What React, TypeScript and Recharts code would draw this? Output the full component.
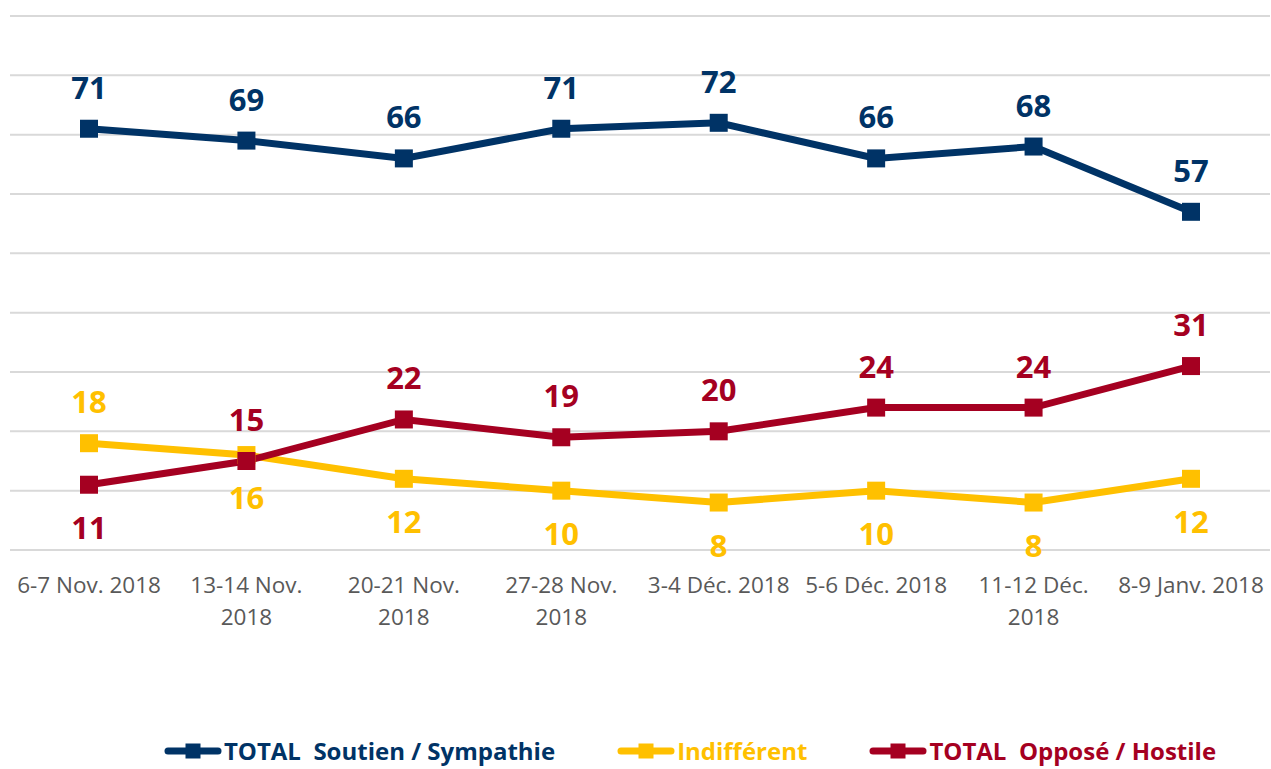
import React from 'react';
import { LineChart, Line, XAxis, YAxis, CartesianGrid, Legend, LabelList } from 'recharts';

const categories = [
  '6-7 Nov. 2018',
  '13-14 Nov.\n2018',
  '20-21 Nov.\n2018',
  '27-28 Nov.\n2018',
  '3-4 Déc. 2018',
  '5-6 Déc. 2018',
  '11-12 Déc.\n2018',
  '8-9 Janv. 2018',
];
const soutien = [71, 69, 66, 71, 72, 66, 68, 57];
const indifferent = [18, 16, 12, 10, 8, 10, 8, 12];
const oppose = [11, 15, 22, 19, 20, 24, 24, 31];
const yTicks = [0, 10, 20, 30, 40, 50, 60, 70, 80, 90];

const NAVY = '#003366';
const YELLOW = '#FFC000';
const RED = '#A50021';
const FONT = '"Open Sans", sans-serif';

const data = categories.map((c, i) => ({
  name: c,
  soutien: soutien[i],
  indifferent: indifferent[i],
  oppose: oppose[i],
}));

const SERIES = [
  { key: 'soutien', label: 'TOTAL  Soutien / Sympathie', color: NAVY, below: [] as number[] },
  { key: 'indifferent', label: 'Indifférent', color: YELLOW, below: [1, 2, 3, 4, 5, 6, 7] },
  { key: 'oppose', label: 'TOTAL  Opposé / Hostile', color: RED, below: [0] },
];

const squareDot = (color: string) => (props: any) => {
  const { cx, cy, index } = props;
  if (cx == null || cy == null) return <g key={`d-${index}`} />;
  return <rect key={`d-${index}`} x={cx - 9} y={cy - 9} width={18} height={18} fill={color} />;
};

const valueLabel = (color: string, below: number[]) => (props: any) => {
  const { x, y, value, index } = props;
  const isBelow = below.includes(index);
  return (
    <text
      x={x}
      y={isBelow ? y + 54 : y - 30}
      textAnchor="middle"
      fill={color}
      fontFamily={FONT}
      fontWeight={700}
      fontSize={31}
    >
      {value}
    </text>
  );
};

const CategoryTick = (props: any) => {
  const { x, y, payload } = props;
  const lines = String(payload.value).split('\n');
  return (
    <text x={x} y={y + 35} textAnchor="middle" fill="#595959" fontFamily={FONT} fontSize={22.5}>
      {lines.map((l, i) => (
        <tspan key={i} x={x} dy={i === 0 ? 0 : 32}>
          {l}
        </tspan>
      ))}
    </text>
  );
};

const LegendContent = () => (
  <div
    style={{
      height: 59,
      display: 'flex',
      alignItems: 'flex-end',
      justifyContent: 'center',
      paddingLeft: 100,
      boxSizing: 'border-box',
      paddingBottom: 2,
      gap: 62,
      fontFamily: FONT,
      fontWeight: 700,
      fontSize: 24,
    }}
  >
    {SERIES.map((s) => (
      <div key={s.key} style={{ display: 'flex', alignItems: 'center', color: s.color }}>
        <svg width={58} height={20} style={{ marginRight: 2 }}>
          <line x1={4} y1={10} x2={54} y2={10} stroke={s.color} strokeWidth={7} strokeLinecap="round" />
          <rect x={21.5} y={2.5} width={15} height={15} fill={s.color} />
        </svg>
        <span style={{ whiteSpace: 'pre' }}>{s.label}</span>
      </div>
    ))}
  </div>
);

export default function App() {
  return (
    <div style={{ position: 'absolute', left: 0, top: 0, width: 1271, height: 769, background: '#fff' }}>
      <LineChart width={1271} height={769} data={data} margin={{ top: 16, right: 1, left: 10, bottom: 0 }}>
        <CartesianGrid vertical={false} stroke="#D9D9D9" strokeWidth={2} />
        <XAxis
          dataKey="name"
          axisLine={false}
          tickLine={false}
          interval={0}
          height={160}
          padding={{ left: 79, right: 79 }}
          tick={<CategoryTick />}
        />
        <YAxis hide domain={[0, 90]} ticks={yTicks} />
        <Legend verticalAlign="bottom" height={59} content={<LegendContent />} />
        {SERIES.map((s) => (
          <Line
            key={s.key}
            type="linear"
            dataKey={s.key}
            stroke={s.color}
            strokeWidth={7}
            dot={squareDot(s.color)}
            activeDot={false}
            isAnimationActive={false}
          >
            <LabelList dataKey={s.key} content={valueLabel(s.color, s.below)} />
          </Line>
        ))}
      </LineChart>
    </div>
  );
}
